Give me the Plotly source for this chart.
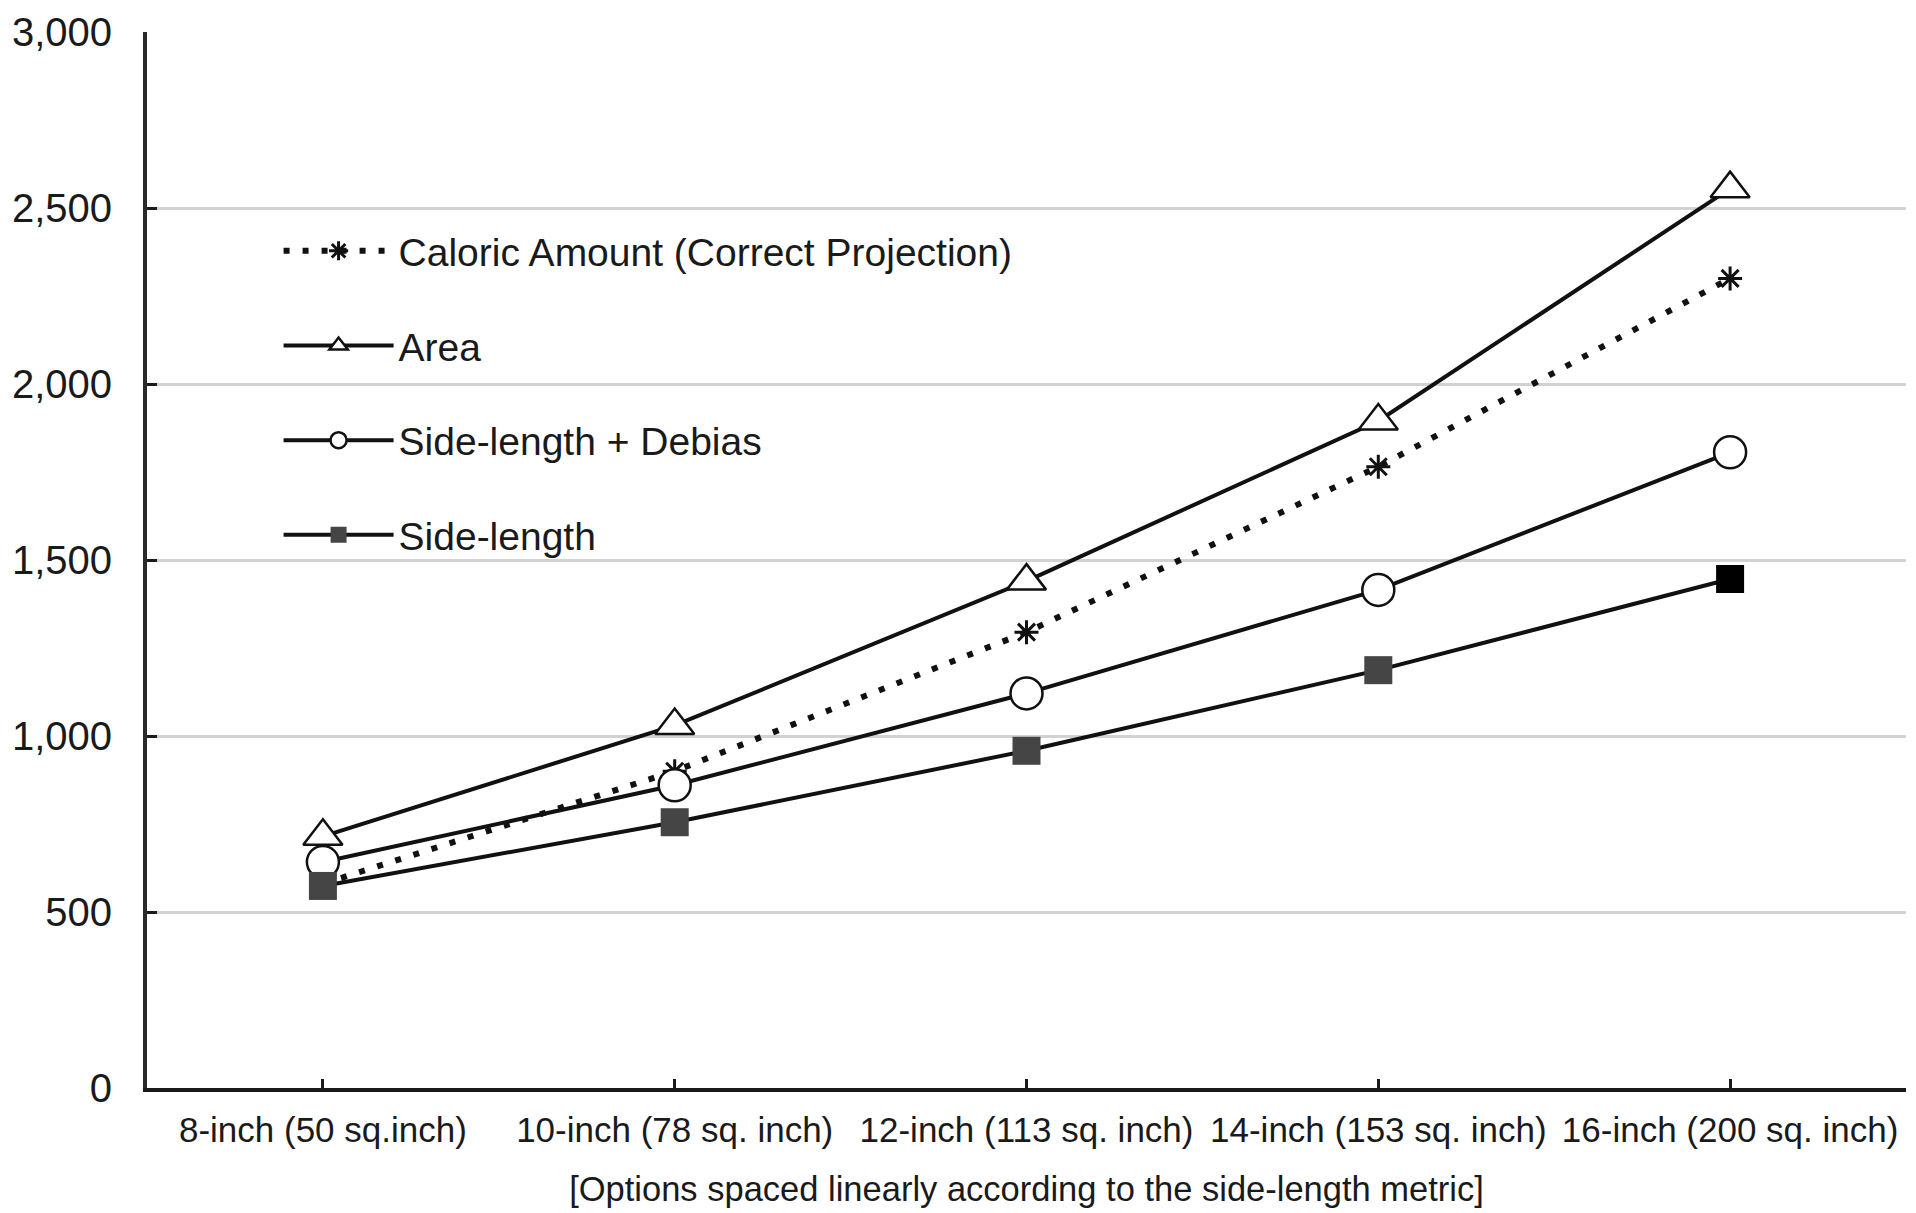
import plotly.graph_objects as go

categories = ["8-inch (50 sq.inch)", "10-inch (78 sq. inch)", "12-inch (113 sq. inch)",
              "14-inch (153 sq. inch)", "16-inch (200 sq. inch)"]
caloric = [580, 900, 1295, 1765, 2300]
area = [715, 1030, 1440, 1895, 2555]
side_debias = [642, 860, 1121, 1415, 1806]
side_length = [574, 755, 958, 1187, 1446]

y_ticks = [0, 500, 1000, 1500, 2000, 2500, 3000]

FONT = "Liberation Sans, Arial, sans-serif"
TXT = "#1a1a1a"

fig = go.Figure()

fig.add_trace(go.Scatter(
    x=categories, y=caloric, name="Caloric Amount (Correct Projection)",
    legendgroup="a", mode="lines+markers",
    line=dict(color="#111111", width=6, dash="6px,13px"),
    marker=dict(symbol="asterisk-open", size=20, line=dict(color="#111111", width=3)),
))
fig.add_trace(go.Scatter(
    x=categories, y=area, name="Area", legendgroup="b", mode="lines+markers",
    line=dict(color="#111111", width=4),
    marker=dict(symbol="triangle-up", size=34, color="white",
                line=dict(color="#111111", width=2.5)),
))
fig.add_trace(go.Scatter(
    x=categories, y=side_debias, name="Side-length + Debias", legendgroup="c",
    mode="lines+markers",
    line=dict(color="#111111", width=4),
    marker=dict(symbol="circle", size=32, color="white",
                line=dict(color="#111111", width=2.5)),
))
sq_colors = ["#454545"] * (len(side_length) - 1) + ["#000000"]
fig.add_trace(go.Scatter(
    x=categories, y=side_length, name="Side-length", legendgroup="d",
    mode="lines+markers",
    line=dict(color="#111111", width=4),
    marker=dict(symbol="square", size=28, color=sq_colors, line=dict(width=0)),
))

fig.update_layout(
    width=1916, height=1213,
    margin=dict(l=147, r=10, t=30, b=122),
    paper_bgcolor="white", plot_bgcolor="white",
    font=dict(family=FONT, color=TXT),
    legend=dict(
        x=0.0748, y=0.823, xanchor="left", yanchor="top",
        font=dict(family=FONT, size=39, color=TXT),
        bgcolor="rgba(255,255,255,0)", tracegroupgap=41,
        itemwidth=110,
    ),
    xaxis=dict(
        type="category", categoryorder="array", categoryarray=categories,
        range=[-0.5, 4.5],
        showgrid=False, showline=True, linecolor="#1a1a1a", linewidth=4,
        ticks="inside", ticklen=9, tickwidth=2.5, tickcolor="#1a1a1a",
        tickfont=dict(family=FONT, size=35, color=TXT),
        ticklabelstandoff=8,
        title=dict(text="[Options spaced linearly according to the side-length metric]",
                   font=dict(family=FONT, size=34.5, color=TXT), standoff=30),
        zeroline=False,
    ),
    yaxis=dict(
        range=[0, 3000], tickvals=y_ticks, tickformat=",d",
        showgrid=True, gridcolor="#d2d2d2", gridwidth=3,
        showline=True, linecolor="#2a2a2a", linewidth=4,
        ticks="inside", ticklen=10, tickwidth=2.5, tickcolor="#1a1a1a",
        tickfont=dict(family=FONT, size=40, color=TXT),
        ticklabelstandoff=23, zeroline=False,
    ),
)

fig.write_html("out.html")
